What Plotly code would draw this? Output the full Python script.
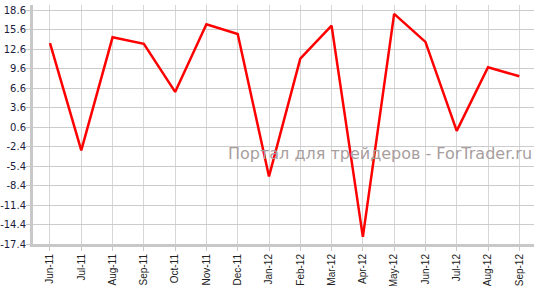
import plotly.graph_objects as go

months = ["Jun-11", "Jul-11", "Aug-11", "Sep-11", "Oct-11", "Nov-11", "Dec-11", "Jan-12",
          "Feb-12", "Mar-12", "Apr-12", "May-12", "Jun-12", "Jul-12", "Aug-12", "Sep-12"]
values = [13.5, -3.0, 14.4, 13.4, 6.0, 16.4, 14.9, -7.0,
          11.1, 16.2, -16.3, 18.0, 13.7, 0.0, 9.8, 8.4]
y_ticks = [-17.4, -14.4, -11.4, -8.4, -5.4, -2.4, 0.6, 3.6, 6.6, 9.6, 12.6, 15.6, 18.6]
watermark = "Портал для трейдеров - ForTrader.ru"

fig = go.Figure()
fig.add_trace(go.Scatter(x=months, y=values, mode="lines",
                         line=dict(color="#ff0000", width=2.5), hoverinfo="skip"))

fig.update_layout(
    width=540, height=286,
    margin=dict(l=33, r=6, t=5, b=42),
    paper_bgcolor="white", plot_bgcolor="white",
    showlegend=False,
    xaxis=dict(type="category", range=[-0.543, 15.47], automargin=False,
               showgrid=True, gridcolor="#d6d6d6", gridwidth=1,
               showline=True, linecolor="#c8c8c8", linewidth=3,
               ticks="outside", ticklen=4, tickcolor="#c8c8c8", tickwidth=1,
               ticklabelstandoff=-1,
               tickangle=-90, tickfont=dict(family="Liberation Sans", size=10, color="#222222")),
    yaxis=dict(range=[-17.4, 19.37], automargin=False,
               tickvals=y_ticks, ticktext=[f"{v:.1f}" for v in y_ticks],
               showgrid=True, gridcolor="#cccccc", gridwidth=1, zeroline=False,
               showline=True, linecolor="#c8c8c8", linewidth=3,
               ticks="outside", ticklen=4, tickcolor="#c8c8c8", tickwidth=1,
               ticklabelstandoff=-2,
               tickfont=dict(family="DejaVu Sans", size=10, color="#1c1c3c")),
    annotations=[dict(text=watermark, xref="paper", yref="paper", x=1.0, y=0.38,
                      xanchor="right", yanchor="middle", showarrow=False,
                      font=dict(family="DejaVu Sans", size=16, color="#a89e9e"))],
)

fig.write_html("out.html")
